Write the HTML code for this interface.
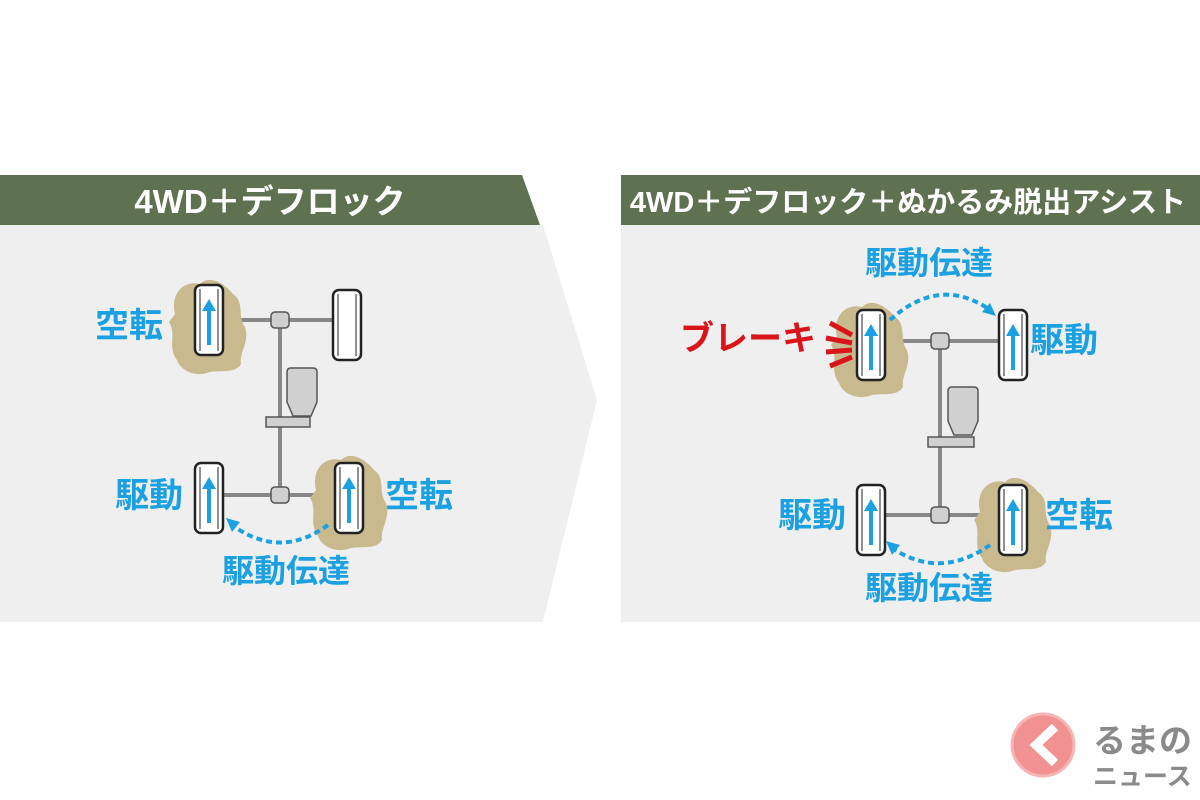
<!DOCTYPE html>
<html><head><meta charset="utf-8"><style>
body{margin:0;background:#fff;}
svg{display:block;}
text{font-family:"Liberation Sans","Noto Sans CJK JP",sans-serif;font-weight:bold;}
</style></head><body>
<svg width="1200" height="800" viewBox="0 0 1200 800" xmlns="http://www.w3.org/2000/svg">
<defs>
<g id="tire"><rect x="0" y="0" width="28" height="70" rx="6" fill="#fff" stroke="#222" stroke-width="2.5"/><line x1="5" y1="4" x2="5" y2="66" stroke="#222" stroke-width="1"/><line x1="23" y1="4" x2="23" y2="66" stroke="#222" stroke-width="1"/></g>
<g id="arr"><line x1="14" y1="60" x2="14" y2="24" stroke="#1ba1e2" stroke-width="4"/><polygon points="7,26 21,26 14,14" fill="#1ba1e2"/></g>
<path id="mud" d="M-20,-8 C-25,-30 -10,-42 5,-38 C15,-48 30,-38 38,-28 C50,-20 42,-5 50,5 C55,20 44,30 46,42 C40,52 25,48 15,50 C0,56 -15,48 -18,38 C-28,25 -18,12 -26,0 Z" fill="#c8b98f"/>
<g id="eng"><path d="M0,4 Q0,0 4,0 L26,0 Q30,0 30,4 L30,34 L24,48 L6,48 L0,34 Z" fill="#d0d0d0" stroke="#555" stroke-width="1.5"/></g>
</defs>
<!-- left panel -->
<polygon points="0,225 543,225 597,400 543,622 0,622" fill="#efefef"/>
<polygon points="0,175 522,175 540,225 0,225" fill="#5e7150"/>
<text x="270" y="213" font-size="33" fill="#fff" text-anchor="middle">4WD＋デフロック</text>
<!-- right panel -->
<rect x="621" y="225" width="579" height="397" fill="#efefef"/>
<rect x="621" y="175" width="579" height="50" fill="#5e7150"/>
<text x="908" y="212" font-size="29" fill="#fff" text-anchor="middle">4WD＋デフロック＋ぬかるみ脱出アシスト</text>

<!-- left diagram -->
<g stroke="#888" stroke-width="4" fill="none"><line x1="222" y1="320" x2="335" y2="320"/><line x1="222" y1="495" x2="335" y2="495"/><line x1="280" y1="320" x2="280" y2="495"/></g>
<use href="#mud" transform="translate(195,322)"/>
<use href="#mud" transform="translate(336,498)"/>
<use href="#eng" x="287" y="368"/>
<rect x="266" y="417" width="44" height="10" fill="#d0d0d0" stroke="#555" stroke-width="1.5"/>
<rect x="271" y="312" width="18" height="16" rx="4" fill="#d0d0d0" stroke="#555" stroke-width="1.5"/>
<rect x="271" y="487" width="18" height="16" rx="4" fill="#d0d0d0" stroke="#555" stroke-width="1.5"/>
<use href="#tire" x="195" y="285"/><use href="#arr" x="195" y="285"/>
<use href="#tire" x="333" y="290"/>
<use href="#tire" x="195" y="463"/><use href="#arr" x="195" y="463"/>
<use href="#tire" x="335" y="463"/><use href="#arr" x="335" y="463"/>
<path d="M328,525 Q280,560 232,525" stroke="#1ba1e2" stroke-width="4" fill="none" stroke-dasharray="6,4"/>
<polygon points="226,518 240,522 232,532" fill="#1ba1e2"/>
<text x="95" y="337" font-size="34" fill="#1ba1e2">空転</text>
<text x="115" y="507" font-size="34" fill="#1ba1e2">駆動</text>
<text x="385" y="507" font-size="34" fill="#1ba1e2">空転</text>
<text x="222" y="582" font-size="32" fill="#1ba1e2">駆動伝達</text>

<!-- right diagram -->
<g stroke="#888" stroke-width="4" fill="none"><line x1="885" y1="341" x2="1000" y2="341"/><line x1="885" y1="515" x2="1000" y2="515"/><line x1="940" y1="341" x2="940" y2="515"/></g>
<use href="#mud" transform="translate(857,345)"/>
<use href="#mud" transform="translate(1000,520)"/>
<use href="#eng" x="948" y="387"/>
<rect x="928" y="437" width="46" height="10" fill="#d0d0d0" stroke="#555" stroke-width="1.5"/>
<rect x="931" y="333" width="18" height="16" rx="4" fill="#d0d0d0" stroke="#555" stroke-width="1.5"/>
<rect x="931" y="507" width="18" height="16" rx="4" fill="#d0d0d0" stroke="#555" stroke-width="1.5"/>
<use href="#tire" x="857" y="310"/><use href="#arr" x="857" y="310"/>
<use href="#tire" x="999" y="310"/><use href="#arr" x="999" y="310"/>
<use href="#tire" x="857" y="485"/><use href="#arr" x="857" y="485"/>
<use href="#tire" x="999" y="485"/><use href="#arr" x="999" y="485"/>
<g stroke="#d9151b" stroke-width="5"><line x1="830" y1="323" x2="852" y2="335"/><line x1="826" y1="338" x2="852" y2="343"/><line x1="826" y1="352" x2="852" y2="350"/><line x1="830" y1="366" x2="852" y2="357"/></g>
<path d="M890,320 Q940,275 990,310" stroke="#1ba1e2" stroke-width="4" fill="none" stroke-dasharray="6,4"/>
<polygon points="996,316 982,312 990,303" fill="#1ba1e2"/>
<path d="M990,545 Q940,580 892,548" stroke="#1ba1e2" stroke-width="4" fill="none" stroke-dasharray="6,4"/>
<polygon points="886,541 900,545 892,555" fill="#1ba1e2"/>
<text x="680" y="350" font-size="34" fill="#d9151b">ブレーキ</text>
<text x="1030" y="352" font-size="34" fill="#1ba1e2">駆動</text>
<text x="778" y="527" font-size="34" fill="#1ba1e2">駆動</text>
<text x="1045" y="527" font-size="34" fill="#1ba1e2">空転</text>
<text x="865" y="274" font-size="32" fill="#1ba1e2">駆動伝達</text>
<text x="865" y="599" font-size="32" fill="#1ba1e2">駆動伝達</text>

<!-- logo -->
<circle cx="1043" cy="745" r="31" fill="#f29191" stroke="#f6b5b5" stroke-width="3"/>
<polyline points="1055,727 1036,745 1055,763" stroke="#fff" stroke-width="9" fill="none"/>
<text x="1093" y="752" font-size="33" fill="#8a8a8a">るまの</text>
<text x="1093" y="785" font-size="25" fill="#8a8a8a">ニュース</text>
</svg>
</body></html>
